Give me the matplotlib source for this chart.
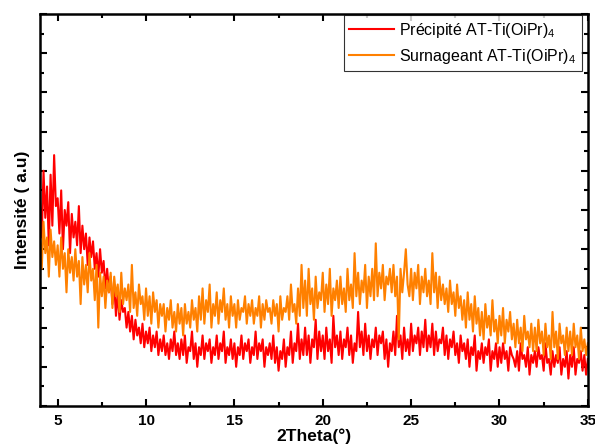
import numpy as np
import matplotlib
matplotlib.use("Agg")
import matplotlib.pyplot as plt
from matplotlib.ticker import MultipleLocator, NullFormatter

plt.rcParams['font.family'] = ['Liberation Sans', 'DejaVu Sans']
plt.rcParams['mathtext.fontset'] = 'custom'
plt.rcParams['mathtext.rm'] = 'Liberation Sans'

# 2theta grid, 0.1 deg steps from 4 to 35
two_theta = np.round(np.arange(40, 351) / 10.0, 1)

# intensities (arbitrary units), one row per degree
precipite = [
    5.2, 4.3, 6.0, 4.8, 5.6, 4.1, 5.9, 4.6, 6.4, 5.1,
    5.3, 4.4, 5.5, 4.0, 5.0, 4.6, 5.2, 3.9, 4.9, 4.3,
    4.7, 4.1, 5.1, 3.9, 4.6, 4.0, 4.4, 3.6, 4.3, 3.8,
    4.2, 3.5, 3.9, 3.3, 4.0, 3.4, 3.7, 3.0, 3.5, 2.9,
    3.3, 2.6, 3.1, 2.3, 2.9, 2.2, 2.7, 2.4, 2.5, 2.0,
    2.4, 1.9, 2.3, 1.7, 2.2, 1.8, 2.0, 1.6, 2.1, 1.5,
    1.9, 1.6, 2.0, 1.4, 1.8, 1.5, 1.9, 1.3, 1.7, 1.4,
    1.8, 1.3, 1.6, 1.2, 1.7, 1.4, 1.9, 1.3, 1.6, 1.2,
    1.7, 1.3, 1.8, 1.1, 1.5, 1.4, 1.9, 1.2, 1.6, 1.0,
    1.5, 1.3, 1.8, 1.2, 1.6, 1.4, 1.7, 1.1, 1.5, 1.3,
    1.8, 1.2, 1.6, 1.4, 1.9, 1.1, 1.5, 1.3, 1.7, 1.2,
    1.6, 1.0, 1.5, 1.3, 1.8, 1.2, 1.6, 1.4, 1.7, 1.1,
    1.5, 1.3, 1.9, 1.2, 1.6, 1.4, 1.7, 1.0, 1.5, 1.3,
    1.6, 1.2, 1.8, 1.1, 1.5, 0.9, 1.4, 1.2, 1.7, 1.0,
    1.5, 1.3, 1.9, 1.1, 1.6, 1.4, 2.1, 1.2, 1.7, 1.3,
    2.0, 1.3, 1.8, 1.1, 1.7, 1.5, 2.2, 1.2, 1.9, 1.4,
    1.8, 1.2, 2.0, 1.4, 1.7, 1.1, 2.3, 1.5, 1.8, 1.3,
    1.9, 1.2, 1.7, 1.5, 2.0, 1.3, 1.8, 1.1, 1.6, 1.4,
    2.4, 1.5, 1.9, 1.3, 2.1, 1.4, 1.8, 1.2, 1.7, 1.5,
    2.0, 1.3, 1.8, 1.6, 1.9, 1.2, 1.7, 1.0, 1.6, 1.4,
    1.9, 1.3, 2.3, 1.5, 1.8, 1.2, 2.0, 1.4, 1.7, 1.3,
    2.1, 1.4, 1.8, 1.6, 2.0, 1.3, 1.9, 1.5, 2.2, 1.4,
    1.8, 1.5, 2.1, 1.3, 1.9, 1.4, 1.7, 1.6, 2.0, 1.3,
    1.8, 1.2, 1.7, 1.5, 1.9, 1.3, 1.6, 1.1, 1.8, 1.4,
    1.6, 1.2, 1.7, 1.0, 1.5, 1.3, 1.8, 0.9, 1.4, 1.2,
    1.6, 1.1, 1.5, 1.3, 1.7, 0.9, 1.4, 1.2, 1.6, 1.0,
    1.5, 1.1, 1.6, 1.2, 1.4, 0.9, 1.5, 1.3, 1.2, 1.0,
    1.4, 0.9, 1.6, 1.2, 1.3, 1.0, 1.5, 0.8, 1.3, 1.1,
    1.4, 1.0, 1.5, 1.2, 1.3, 0.9, 1.6, 1.1, 1.2, 0.8,
    1.4, 1.0, 1.3, 1.1, 1.5, 0.8, 1.2, 1.0, 1.4, 0.7,
    1.3, 1.0, 1.5, 0.8, 1.2, 1.1, 1.4, 0.9, 1.3, 0.8,
    1.2,
]

surnageant = [
    4.4, 3.5, 4.7, 3.9, 4.3, 3.3, 4.5, 3.8, 4.2, 3.6,
    4.1, 3.3, 4.3, 3.5, 3.9, 2.9, 4.0, 3.4, 3.8, 3.2,
    4.0, 3.3, 3.7, 2.6, 3.8, 3.1, 3.6, 2.9, 3.9, 3.2,
    3.5, 2.7, 3.6, 2.0, 3.4, 2.8, 3.3, 2.5, 3.2, 2.9,
    3.4, 2.5, 3.3, 2.8, 3.1, 2.4, 3.4, 2.6, 3.0, 2.7,
    3.1, 2.4, 3.6, 2.5, 2.9, 2.3, 3.1, 2.6, 2.8, 2.2,
    3.0, 2.3, 2.8, 2.1, 2.9, 2.4, 2.7, 2.0, 2.6, 2.3,
    2.6, 1.9, 2.5, 2.2, 2.7, 2.0, 2.4, 1.9, 2.6, 2.1,
    2.5, 1.8, 2.6, 2.1, 2.4, 2.0, 2.7, 2.2, 2.5, 1.9,
    2.8, 2.2, 3.0, 2.1, 2.7, 2.4, 3.1, 2.0, 2.6, 2.3,
    2.9, 2.1, 2.7, 2.4, 3.0, 2.2, 2.6, 2.0, 2.8, 2.3,
    2.6, 2.0, 2.7, 2.2, 2.5, 2.4, 2.8, 2.1, 2.6, 2.3,
    2.7, 2.1, 2.5, 2.3, 2.8, 2.0, 2.6, 2.2, 2.7, 2.4,
    2.5, 2.1, 2.7, 2.3, 2.6, 1.9, 2.8, 2.2, 2.5, 2.4,
    2.8, 2.2, 3.1, 2.4, 2.6, 2.1, 3.0, 2.3, 3.6, 2.5,
    3.2, 2.3, 3.5, 2.6, 3.0, 2.2, 3.3, 2.5, 2.9, 2.7,
    3.4, 2.4, 3.1, 2.6, 3.5, 2.3, 3.0, 2.7, 3.2, 2.5,
    3.3, 2.6, 3.0, 2.4, 3.5, 2.7, 3.1, 2.5, 3.9, 2.8,
    3.4, 2.6, 3.2, 2.9, 3.6, 2.5, 3.3, 2.8, 3.5, 2.7,
    4.15, 2.8, 3.4, 3.0, 3.6, 2.7, 3.3, 3.1, 3.5, 2.9,
    3.6, 2.8, 3.3, 1.7, 3.5, 2.9, 3.4, 4.0, 3.1, 2.8,
    3.5, 2.7, 3.4, 3.0, 3.6, 2.6, 3.3, 2.9, 3.5, 2.8,
    3.2, 2.6, 3.9, 2.9, 3.4, 2.5, 3.3, 2.7, 3.1, 2.6,
    3.0, 2.4, 3.2, 2.6, 2.9, 2.3, 3.1, 2.5, 2.8, 2.2,
    2.7, 2.0, 2.9, 2.2, 2.6, 1.9, 2.8, 2.1, 2.5, 1.8,
    2.4, 1.7, 2.6, 2.0, 2.3, 1.8, 2.7, 1.9, 2.2, 1.6,
    2.3, 1.8, 2.5, 1.6, 2.2, 1.9, 2.4, 1.7, 2.1, 1.5,
    2.2, 1.6, 2.0, 1.4, 2.3, 1.7, 1.9, 1.5, 2.1, 1.4,
    2.0, 1.4, 2.2, 1.6, 1.9, 1.3, 2.1, 1.5, 1.8, 1.2,
    2.4, 1.5, 1.9, 1.2, 2.1, 1.6, 1.8, 1.3, 2.0, 1.4,
    1.9, 1.3, 2.1, 1.5, 1.8, 1.2, 2.0, 1.4, 1.7, 1.3,
    1.6,
]

labels = ['Précipité AT-Ti(OiPr)$_4$', 'Surnageant AT-Ti(OiPr)$_4$']

fig = plt.figure(figsize=(5.95, 4.47), dpi=100)
ax = fig.add_axes([0.0672, 0.0917, 0.9208, 0.877])

ax.plot(two_theta, precipite, color='#FF0000', lw=1.5, label=labels[0])
ax.plot(two_theta, surnageant, color='#FF8000', lw=1.5, label=labels[1])

ax.set_xlim(4, 35)
ax.set_ylim(0, 10)
ax.xaxis.set_major_locator(MultipleLocator(5))
ax.xaxis.set_minor_locator(MultipleLocator(2.5))
ax.yaxis.set_major_locator(MultipleLocator(1))
ax.yaxis.set_minor_locator(MultipleLocator(0.5))
ax.yaxis.set_major_formatter(NullFormatter())

ax.tick_params(which='both', direction='in', top=True, right=True, width=1.5)
ax.tick_params(which='major', length=5, labelsize=11, pad=6)
ax.tick_params(which='minor', length=3)
for lab in ax.get_xticklabels():
    lab.set_fontweight('bold')
for sp in ax.spines.values():
    sp.set_linewidth(1.8)

ax.set_xlabel('2Theta(°)', fontsize=12.5, fontweight='bold', labelpad=0)
ax.set_ylabel('Intensité ( a.u)', fontsize=12.5, fontweight='bold', labelpad=1)

leg = ax.legend(loc='upper right', bbox_to_anchor=(582 / 595, 1 - 15 / 447),
                bbox_transform=fig.transFigure, fontsize=11.5, frameon=True,
                fancybox=False, handlelength=2.8, borderpad=0.35,
                labelspacing=0.45, borderaxespad=0, handletextpad=0.35)
leg.get_frame().set_edgecolor('black')
leg.get_frame().set_linewidth(0.8)

fig.savefig('out.png', dpi=100)
